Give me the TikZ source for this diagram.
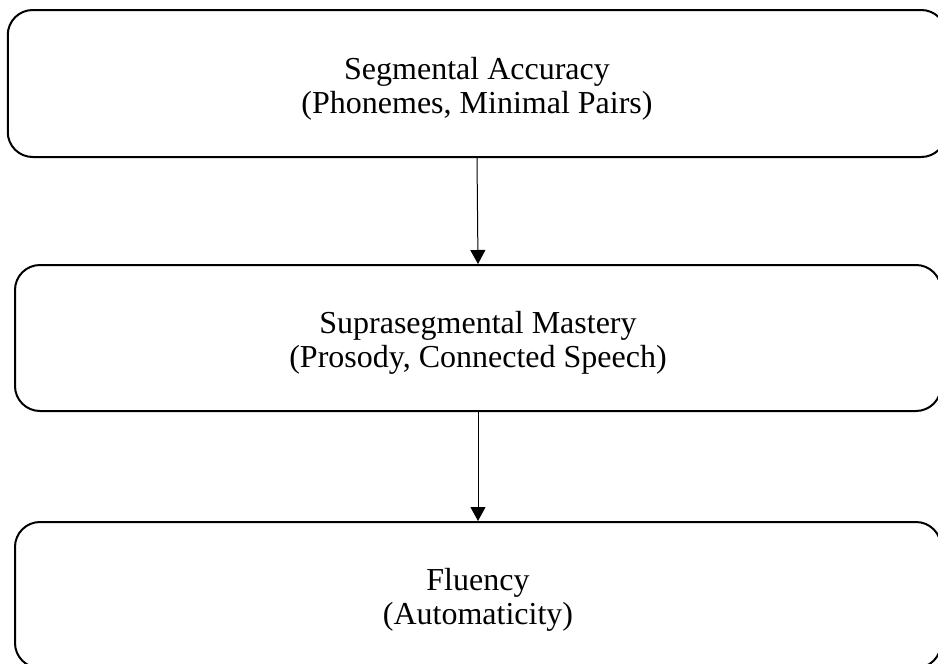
\documentclass[tikz,border=0pt]{standalone}
\usepackage{fontspec}
\setmainfont{Liberation Serif}
\usetikzlibrary{arrows.meta}
\begin{document}
\begin{tikzpicture}[x=1pt,y=-1pt,
  stage/.style={draw, line width=2pt, rounded corners=25pt, inner sep=0pt},
  stagetext/.style={inner sep=0pt, align=center, yshift=-5pt,
    font=\fontsize{32}{34}\selectfont},
  flow/.style={line width=1pt, -{Triangle[width=15pt,length=14pt]}}]
  \useasboundingbox (0,0) rectangle (938,664);
  \clip (0,0) rectangle (938,664);
  % the three stages, each box running past the right margin
  \node[stage, minimum width=938.5pt, minimum height=147pt] (seg) at (477,83.5) {};
  \node[stage, minimum width=926pt, minimum height=146pt] (supra) at (478,338) {};
  \node[stage, minimum width=926pt, minimum height=146pt] (flu) at (478,595) {};
  \node[stagetext] (segtext) at (seg.center)
    {Segmental Accuracy\\(Phonemes, Minimal Pairs)};
  \node[stagetext] (supratext) at (supra.center)
    {Suprasegmental Mastery\\(Prosody, Connected Speech)};
  \node[stagetext] (flutext) at (flu.center)
    {Fluency\\(Automaticity)};
  % downward progression
  \draw[flow] (seg.south) -- (supra.north);
  \draw[flow] (supra.south) -- (flu.north);
\end{tikzpicture}
\end{document}
